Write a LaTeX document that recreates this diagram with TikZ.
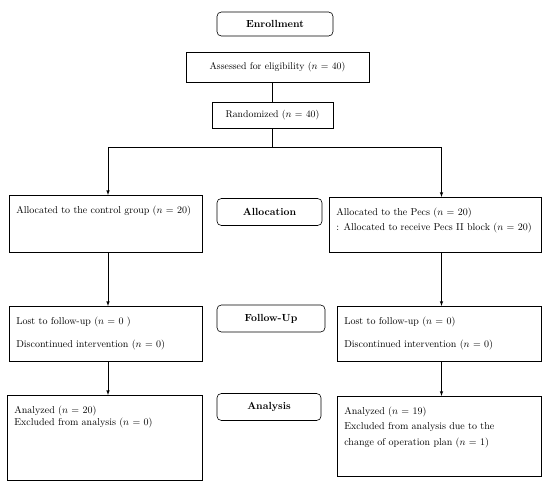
\documentclass[tikz,border=0pt]{standalone}
\usetikzlibrary{positioning}
\newcommand{\boxtext}[3]{\parbox[c][#2][t]{#1}{\strut #3}}

\begin{document}
\begin{tikzpicture}[x=1pt,y=-1pt,line width=0.6pt]
\tikzstyle{stage} = [draw, rounded corners=1ex, minimum width=105pt,
            minimum height=27pt, font=\fontsize{10.3}{12}\selectfont\bfseries];
\tikzstyle{entry} = [draw, font=\fontsize{9.8}{12}\selectfont];
\tikzstyle{group} = [draw, anchor=north west, inner xsep=7pt, inner ysep=7pt,
            font=\fontsize{10}{15.5}\selectfont];

    \useasboundingbox (0,0) rectangle (550,487);

    \node (enrol) at (275,24) [stage, minimum width=116pt, minimum height=24pt] {Enrollment};
    \node (assess) at (277.5,67) [entry, minimum width=183pt, minimum height=30pt]
        {Assessed for eligibility ($n$ = 40)};
    \node (rand) at (272.5,115) [entry, minimum width=121pt, minimum height=26pt]
        {Randomized ($n$ = 40)};

    % stage labels in the middle column
    \node (alloc) at (269.5,212) [stage] {Allocation};
    \node (follow) at (271,318.5) [stage, minimum width=108pt] {Follow-Up};
    \node (anal) at (269,407) [stage, minimum width=104pt] {Analysis};

    % control group
    \node (alloc0) at (9,195) [group] {\boxtext{179pt}{43pt}{Allocated to the control group ($n$ = 20)}};
    \node (follow0) at (9,306) [group] {\boxtext{179pt}{41pt}{Lost to follow-up ($n$ = 0 )\\[7.5pt]
        Discontinued intervention ($n$ = 0)}};
    \node (anal0) at (7,395) [group] {\boxtext{181pt}{71pt}{\baselineskip=12.5pt Analyzed ($n$ = 20)\\
        Excluded from analysis ($n$ = 0)}};

    % Pecs group
    \node (alloc1) at (329,197) [group] {\boxtext{198pt}{41pt}{Allocated to the Pecs ($n$ = 20)\\
        : Allocated to receive Pecs II block ($n$ = 20)}};
    \node (follow1) at (337,306) [group] {\boxtext{190pt}{41pt}{Lost to follow-up ($n$ = 0)\\[7.5pt]
        Discontinued intervention ($n$ = 0)}};
    \node (anal1) at (337,396) [group] {\boxtext{190pt}{66pt}{Analyzed ($n$ = 19)\\
        Excluded from analysis due to the\\ change of operation plan ($n$ = 1)}};

    \coordinate (colL) at (108,0);
    \coordinate (colR) at (441.5,0);

    \draw[-] (assess.south -| rand) -- (rand);
    \draw[-] (rand) -- ++(0,32) coordinate (split);
    \draw[-latex] (split) -| (colL |- alloc0.north);
    \draw[-latex] (split) -| (colR |- alloc1.north);

    \foreach \a/\b in {alloc0/follow0, follow0/anal0} {
        \draw[-latex] (colL |- \a.south) -- (colL |- \b.north);
    }
    \foreach \a/\b in {alloc1/follow1, follow1/anal1} {
        \draw[-latex] (colR |- \a.south) -- (colR |- \b.north);
    }

\end{tikzpicture}
\end{document}
